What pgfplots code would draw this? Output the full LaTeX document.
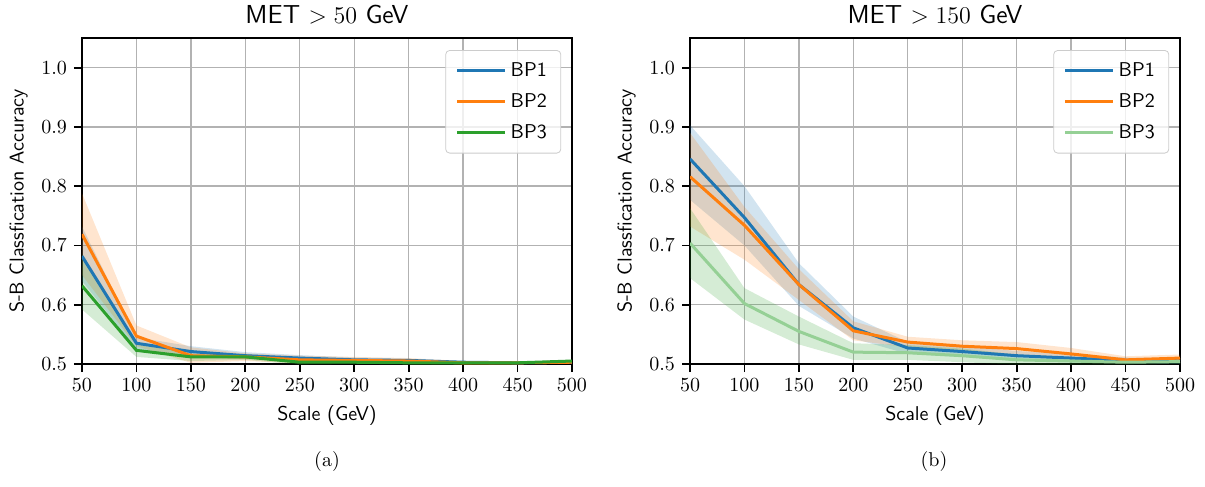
\documentclass[border=0pt]{standalone}
\usepackage{pgfplots}
\pgfplotsset{compat=1.18}

\definecolor{tabblue}{HTML}{1F77B4}
\definecolor{taborange}{HTML}{FF7F0E}
\definecolor{tabgreen}{HTML}{2CA02C}

\pgfplotsset{
  accplot/.style={
    scale only axis, width=245pt, height=163pt,
    xmin=50, xmax=500, ymin=0.5, ymax=1.05,
    xtick={50,100,150,200,250,300,350,400,450,500},
    ytick={0.5,0.6,0.7,0.8,0.9,1.0},
    yticklabel style={/pgf/number format/.cd, fixed, fixed zerofill, precision=1},
    grid=major, grid style={color=black!30, line width=0.7pt},
    axis line style={line width=0.9pt},
    tick align=outside, tick pos=left, major tick length=4pt,
    tick style={black, line width=0.9pt},
    xlabel={\sffamily Scale (GeV)},
    ylabel={\sffamily S-B Classfication Accuracy},
    title style={font=\fontsize{13}{15}\selectfont, yshift=-2.5pt},
    legend style={at={(0.978,0.963)}, anchor=north east, draw=black!20,
      rounded corners=2pt, fill=white, fill opacity=0.8, text opacity=1,
      font=\sffamily, row sep=3pt, inner xsep=5pt, inner ysep=4pt},
    legend cell align=left,
    legend image code/.code={\draw[#1] (0pt,0pt) -- (24pt,0pt);},
  },
  band/.style={fill=#1, fill opacity=0.2, draw=none, forget plot},
  mean/.style={#1, line width=1.5pt},
}

\begin{document}
\begin{tikzpicture}
\useasboundingbox (-41pt,-61.5pt) rectangle (561.5pt,182pt);

% (a) MET > 50 GeV
\begin{axis}[accplot, at={(0pt,0pt)}, anchor=south west,
  title={\sffamily MET $>50$ GeV}]
\addplot[band=tabblue] coordinates {
  (50,0.732) (100,0.545) (150,0.530) (200,0.520) (250,0.515) (300,0.511) (350,0.509) (400,0.505) (450,0.504) (500,0.505)
  (500,0.501) (450,0.500) (400,0.500) (350,0.503) (300,0.503) (250,0.505) (200,0.508) (150,0.512) (100,0.525) (50,0.640)
} -- cycle;
\addplot[band=taborange] coordinates {
  (50,0.788) (100,0.565) (150,0.528) (200,0.518) (250,0.514) (300,0.512) (350,0.510) (400,0.505) (450,0.504) (500,0.505)
  (500,0.501) (450,0.500) (400,0.499) (350,0.500) (300,0.501) (250,0.501) (200,0.505) (150,0.502) (100,0.530) (50,0.650)
} -- cycle;
\addplot[band=tabgreen] coordinates {
  (50,0.685) (100,0.533) (150,0.518) (200,0.517) (250,0.508) (300,0.506) (350,0.504) (400,0.503) (450,0.503) (500,0.507)
  (500,0.503) (450,0.500) (400,0.500) (350,0.500) (300,0.500) (250,0.499) (200,0.507) (150,0.505) (100,0.512) (50,0.592)
} -- cycle;

\addplot[mean=tabblue] coordinates {
  (50,0.682) (100,0.535) (150,0.521) (200,0.514) (250,0.510) (300,0.507) (350,0.506) (400,0.503) (450,0.502) (500,0.503)
};
\addlegendentry{BP1}
\addplot[mean=taborange] coordinates {
  (50,0.719) (100,0.547) (150,0.514) (200,0.512) (250,0.507) (300,0.506) (350,0.505) (400,0.502) (450,0.502) (500,0.503)
};
\addlegendentry{BP2}
\addplot[mean=tabgreen] coordinates {
  (50,0.632) (100,0.523) (150,0.512) (200,0.512) (250,0.503) (300,0.503) (350,0.502) (400,0.502) (450,0.502) (500,0.505)
};
\addlegendentry{BP3}
\end{axis}

% (b) MET > 150 GeV
\begin{axis}[accplot, at={(304pt,0pt)}, anchor=south west,
  title={\sffamily MET $>150$ GeV}]
\addplot[band=tabblue] coordinates {
  (50,0.903) (100,0.800) (150,0.670) (200,0.580) (250,0.537) (300,0.530) (350,0.522) (400,0.517) (450,0.511) (500,0.510)
  (500,0.500) (450,0.501) (400,0.503) (350,0.506) (300,0.512) (250,0.517) (200,0.543) (150,0.598) (100,0.700) (50,0.777)
} -- cycle;
\addplot[band=taborange] coordinates {
  (50,0.890) (100,0.765) (150,0.660) (200,0.572) (250,0.546) (300,0.540) (350,0.537) (400,0.527) (450,0.513) (500,0.516)
  (500,0.504) (450,0.501) (400,0.507) (350,0.515) (300,0.520) (250,0.528) (200,0.540) (150,0.608) (100,0.676) (50,0.732)
} -- cycle;
\addplot[band=tabgreen] coordinates {
  (50,0.763) (100,0.628) (150,0.580) (200,0.535) (250,0.532) (300,0.526) (350,0.516) (400,0.511) (450,0.508) (500,0.509)
  (500,0.500) (450,0.499) (400,0.499) (350,0.499) (300,0.503) (250,0.507) (200,0.507) (150,0.533) (100,0.575) (50,0.645)
} -- cycle;

\addplot[mean=tabblue] coordinates {
  (50,0.846) (100,0.747) (150,0.634) (200,0.561) (250,0.527) (300,0.521) (350,0.514) (400,0.510) (450,0.506) (500,0.505)
};
\addlegendentry{BP1}
\addplot[mean=taborange] coordinates {
  (50,0.816) (100,0.734) (150,0.634) (200,0.556) (250,0.537) (300,0.530) (350,0.526) (400,0.517) (450,0.507) (500,0.510)
};
\addlegendentry{BP2}
\addplot[mean=tabgreen!50] coordinates {
  (50,0.704) (100,0.602) (150,0.555) (200,0.520) (250,0.519) (300,0.514) (350,0.507) (400,0.505) (450,0.503) (500,0.504)
};
\addlegendentry{BP3}
\end{axis}

\node at (122.5pt,-49pt) {(a)};
\node at (426pt,-49pt) {(b)};
\end{tikzpicture}
\end{document}
